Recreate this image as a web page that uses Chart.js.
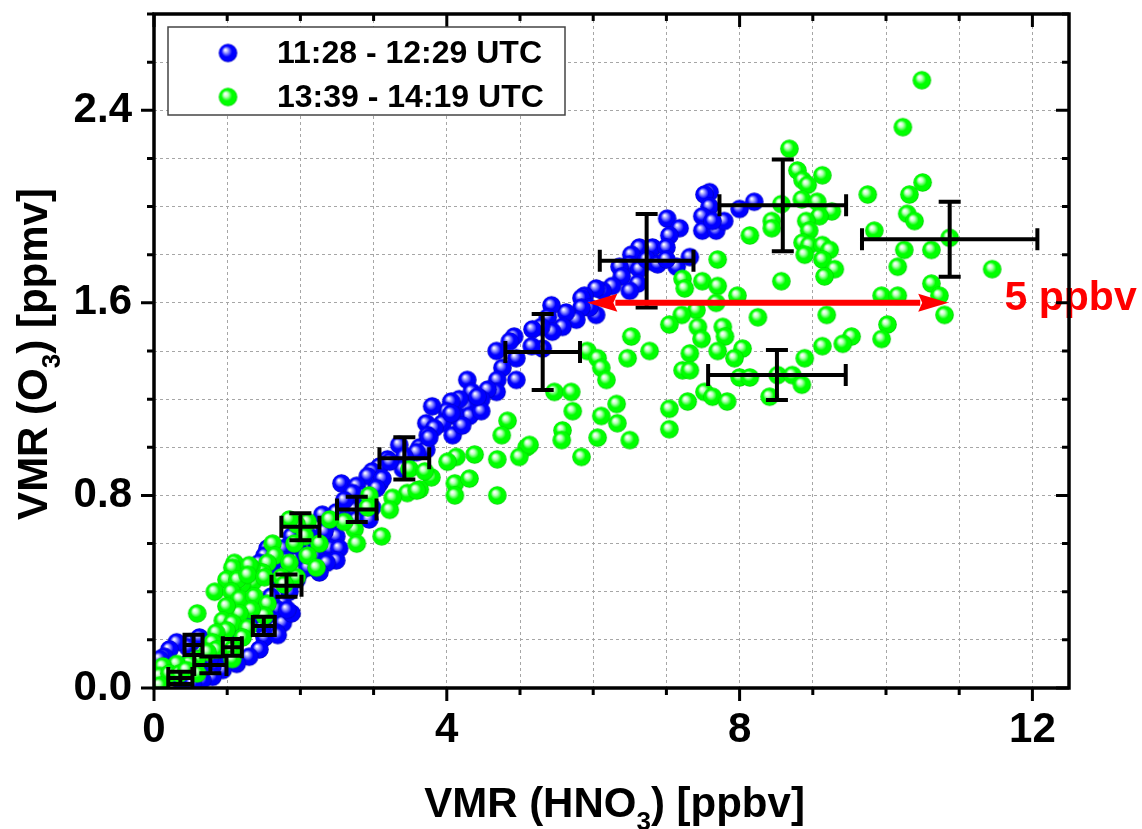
<!DOCTYPE html>
<html>
<head>
<meta charset="utf-8">
<script src="https://cdn.jsdelivr.net/npm/chart.js@4.4.1/dist/chart.umd.min.js"></script>
<style>
  html, body { margin: 0; padding: 0; background: #fff; }
  #wrap { width: 1142px; height: 829px; position: relative; }
</style>
</head>
<body>
<div id="wrap"><canvas id="chart"></canvas></div>
<script>
const FONT = '"Liberation Sans", Arial, sans-serif';

const seriesLabels = ['11:28 - 12:29 UTC', '13:39 - 14:19 UTC'];

// 11:28 - 12:29 UTC  (HNO3 ppbv, O3 ppmv)
const blueHno3 = [
  7.59, 7.52, 7.59, 7.49, 7.49, 7.68, 7.79, 8.00, 8.20, 7.01,
  7.18, 7.04, 6.81, 7.00, 7.14, 7.32, 6.81, 7.63, 6.63, 6.52,
  6.50, 6.63, 6.73, 6.88, 7.00, 6.36, 6.39, 6.61, 6.50, 6.26,
  6.13, 6.04, 5.88, 5.84, 6.04, 5.95, 5.84, 5.77, 5.63, 5.58,
  5.43, 5.38, 5.44, 5.29, 5.17, 5.31, 5.16, 4.92, 4.86, 4.68,
  4.95, 4.76, 4.95, 4.69, 4.68, 4.56, 4.47, 4.42, 4.28, 4.34,
  4.27, 4.31, 4.17, 4.06, 4.11, 4.00, 3.94, 3.80, 3.72, 3.83,
  3.74, 3.63, 3.72, 3.45, 3.59, 4.08, 4.21, 4.47, 4.42, 4.06,
  3.76, 3.35, 3.42, 3.19, 3.08, 2.98, 2.92, 2.56, 2.77, 3.08,
  3.40, 3.22, 3.12, 3.04, 2.85, 2.71, 2.63, 2.74, 2.77, 2.49,
  2.40, 2.49, 2.33, 2.40, 2.22, 2.12, 1.99, 1.96, 2.06, 1.88,
  1.85, 1.76, 1.81, 1.89, 1.99, 1.55, 1.51, 1.44, 1.30, 1.62,
  1.71, 1.95, 1.85, 1.81, 1.76, 1.67, 1.48, 1.51, 1.44, 1.30,
  1.13, 0.94, 0.80, 0.80, 0.66, 0.51, 0.46, 0.31, 0.21, 0.14,
  0.08, 0.62, 0.35, 0.53, 0.39, 0.87, 0.76, 1.76, 1.67, 1.54,
  1.03, 1.69, 1.88, 2.53, 2.49, 0.25, 0.45, 0.60, 1.00, 1.20,
  1.35, 1.60, 2.10, 2.20, 2.30, 2.60, 2.36, 2.26, 2.98, 2.94,
  1.82
];
const blueO3 = [
  2.06, 2.05, 2.00, 1.96, 1.90, 1.90, 1.94, 1.99, 2.02, 1.95,
  1.91, 1.88, 1.83, 1.83, 1.75, 1.79, 1.77, 1.94, 1.83, 1.80,
  1.76, 1.74, 1.78, 1.76, 1.78, 1.75, 1.71, 1.68, 1.65, 1.67,
  1.65, 1.66, 1.63, 1.62, 1.55, 1.58, 1.58, 1.53, 1.56, 1.50,
  1.59, 1.54, 1.48, 1.50, 1.49, 1.41, 1.42, 1.46, 1.44, 1.40,
  1.37, 1.33, 1.28, 1.28, 1.23, 1.24, 1.20, 1.16, 1.28, 1.23,
  1.17, 1.13, 1.20, 1.19, 1.13, 1.15, 1.10, 1.17, 1.10, 1.08,
  1.05, 1.00, 0.99, 0.96, 0.98, 1.05, 1.09, 1.15, 1.21, 1.14,
  1.04, 1.01, 0.96, 0.95, 0.92, 0.90, 0.88, 0.85, 0.84, 0.85,
  0.91, 0.94, 0.87, 0.83, 0.80, 0.81, 0.76, 0.74, 0.70, 0.73,
  0.69, 0.63, 0.65, 0.58, 0.59, 0.63, 0.65, 0.59, 0.55, 0.63,
  0.59, 0.58, 0.53, 0.50, 0.48, 0.58, 0.55, 0.52, 0.49, 0.52,
  0.46, 0.45, 0.40, 0.31, 0.27, 0.23, 0.26, 0.21, 0.16, 0.13,
  0.10, 0.075, 0.09, 0.046, 0.033, 0.19, 0.17, 0.19, 0.16, 0.13,
  0.12, 0.21, 0.033, 0.02, 0.075, 0.13, 0.12, 0.35, 0.33, 0.30,
  0.19, 0.22, 0.31, 0.58, 0.53, 0.05, 0.10, 0.12, 0.14, 0.22,
  0.30, 0.38, 0.50, 0.55, 0.72, 0.78, 0.52, 0.48, 0.75, 0.70,
  0.325
];

// 13:39 - 14:19 UTC
const greenHno3 = [
  10.49, 10.23, 8.68, 8.79, 9.13, 8.86, 8.93, 8.85, 9.06, 8.57,
  9.26, 9.09, 8.91, 8.44, 8.44, 8.95, 9.75, 10.32, 10.50, 10.29,
  10.39, 9.84, 8.14, 8.86, 8.95, 9.13, 9.23, 8.89, 9.13, 9.30,
  9.16, 7.70, 10.25, 10.62, 10.87, 10.16, 11.45, 8.57, 10.62, 10.73,
  9.94, 10.16, 10.80, 7.49, 7.22, 7.25, 7.70, 7.97, 7.68, 7.41,
  7.21, 7.04, 7.43, 7.48, 7.77, 7.80, 7.70, 7.32, 8.25, 9.19,
  10.02, 9.94, 9.53, 9.41, 9.13, 8.89, 8.04, 7.93, 7.22, 7.32,
  8.00, 8.14, 8.52, 8.72, 8.85, 7.52, 7.63, 7.83, 7.29, 8.41,
  7.04, 7.04, 6.77, 6.52, 6.47, 5.92, 6.06, 6.11, 6.18, 5.47,
  5.70, 5.72, 6.11, 6.32, 6.33, 5.58, 5.57, 6.06, 6.50, 5.84,
  5.09, 4.99, 4.83, 4.75, 4.38, 4.13, 4.01, 3.79, 4.11, 4.31,
  4.69, 4.69, 3.49, 3.63, 4.11, 5.13, 3.11, 3.70, 3.46, 3.59,
  3.26, 3.22, 2.94, 2.92, 2.74, 2.77, 2.60, 2.40, 2.10, 1.95,
  1.85, 2.06, 2.26, 1.92, 1.62, 1.65, 2.10, 2.22, 1.95, 1.85,
  1.74, 1.55, 1.48, 1.33, 1.21, 1.10, 1.35, 1.20, 1.07, 1.30,
  0.99, 1.14, 1.28, 1.51, 0.83, 1.06, 1.17, 1.37, 1.55, 1.51,
  1.33, 1.17, 0.99, 0.59, 0.94, 1.07, 1.28, 1.21, 0.99, 0.85,
  0.80, 0.99, 1.07, 1.07, 0.85, 0.73, 0.58, 0.48, 0.31, 0.12,
  0.08, 0.21, 0.35, 0.44, 0.59, 0.08, 1.78
];
const greenO3 = [
  2.525, 2.33, 2.24, 2.15, 2.13, 2.11, 2.09, 2.03, 2.02, 2.01,
  1.98, 1.96, 1.94, 1.94, 1.91, 1.90, 2.05, 2.05, 2.10, 1.97,
  1.94, 1.90, 1.88, 1.85, 1.84, 1.84, 1.82, 1.80, 1.78, 1.74,
  1.71, 1.78, 1.82, 1.82, 1.87, 1.75, 1.74, 1.69, 1.68, 1.63,
  1.63, 1.63, 1.55, 1.69, 1.70, 1.66, 1.67, 1.63, 1.60, 1.57,
  1.55, 1.51, 1.50, 1.45, 1.50, 1.46, 1.40, 1.39, 1.54, 1.55,
  1.51, 1.45, 1.46, 1.43, 1.42, 1.37, 1.41, 1.37, 1.32, 1.32,
  1.29, 1.29, 1.30, 1.30, 1.26, 1.23, 1.21, 1.19, 1.19, 1.21,
  1.16, 1.075, 1.40, 1.46, 1.37, 1.40, 1.37, 1.33, 1.28, 1.23,
  1.23, 1.15, 1.13, 1.18, 1.10, 1.07, 1.03, 1.04, 1.03, 0.96,
  1.00, 0.96, 1.11, 1.05, 0.97, 0.96, 0.94, 0.875, 0.85, 0.87,
  0.95, 0.80, 0.91, 0.825, 0.80, 1.01, 0.63, 0.90, 0.81, 0.82,
  0.79, 0.74, 0.80, 0.75, 0.66, 0.60, 0.69, 0.70, 0.69, 0.68,
  0.70, 0.63, 0.60, 0.60, 0.60, 0.55, 0.55, 0.50, 0.46, 0.52,
  0.46, 0.52, 0.48, 0.50, 0.46, 0.52, 0.44, 0.43, 0.50, 0.51,
  0.45, 0.45, 0.47, 0.46, 0.40, 0.40, 0.37, 0.38, 0.35, 0.30,
  0.325, 0.31, 0.34, 0.31, 0.28, 0.27, 0.25, 0.21, 0.24, 0.23,
  0.19, 0.17, 0.16, 0.12, 0.16, 0.15, 0.12, 0.10, 0.10, 0.09,
  0.05, 0.06, 0.06, 0.075, 0.06, 0.01, 0.43
];

// error crosses: centre and half-widths
const errHno3    = [6.73, 5.31, 8.59, 10.87, 8.51, 3.42, 2.77, 2.00, 1.81, 1.50, 1.07, 0.54, 0.77, 0.36];
const errO3      = [1.775, 1.396, 2.005, 1.864, 1.30, 0.954, 0.742, 0.67, 0.425, 0.258, 0.169, 0.179, 0.096, 0.042];
const errHno3Unc = [0.64, 0.51, 0.865, 1.198, 0.94, 0.34, 0.27, 0.26, 0.205, 0.15, 0.13, 0.123, 0.22, 0.165];
const errO3Unc   = [0.194, 0.158, 0.191, 0.156, 0.104, 0.0875, 0.052, 0.056, 0.046, 0.0375, 0.035, 0.042, 0.035, 0.025];

// the "5 ppbv" arrow
const arrowFrom = 5.92;
const arrowTo = 10.85;
const arrowLevel = 1.6;
const arrowLabel = '5 ppbv';
const arrowLabelAt = 11.62;

const xLabelTicks = [0, 4, 8, 12];
const yLabelTicks = [0, 0.8, 1.6, 2.4];

function isLabelled(v, list) {
  return list.some(l => Math.abs(l - v) < 1e-6);
}

function toPoints(xs, ys) {
  return xs.map((v, i) => ({ x: v, y: ys[i] }));
}

// shaded ball used as point marker
function makeBall(body, glow, rim) {
  const r = 9.3, size = 21;
  const c = document.createElement('canvas');
  c.width = c.height = size;
  const g = c.getContext('2d');
  const m = size / 2;
  const grad = g.createRadialGradient(m - 2.7, m - 3.2, 0.5, m, m, r);
  grad.addColorStop(0, '#ffffff');
  grad.addColorStop(0.22, glow);
  grad.addColorStop(0.55, body);
  grad.addColorStop(0.88, body);
  grad.addColorStop(1, rim);
  g.fillStyle = grad;
  g.beginPath();
  g.arc(m, m, r, 0, Math.PI * 2);
  g.fill();
  return c;
}
const blueBall = makeBall('#0000ff', '#9c9cff', '#0000b4');
const greenBall = makeBall('#00ff00', '#bfffbf', '#00c400');

function drawErrorBars(chart) {
  const { ctx, scales: { x, y } } = chart;
  const cap = 11;
  ctx.save();
  ctx.strokeStyle = '#000';
  ctx.lineWidth = 4;
  ctx.beginPath();
  for (let i = 0; i < errHno3.length; i++) {
    const cx = x.getPixelForValue(errHno3[i]);
    const cy = y.getPixelForValue(errO3[i]);
    const x0 = x.getPixelForValue(errHno3[i] - errHno3Unc[i]);
    const x1 = x.getPixelForValue(errHno3[i] + errHno3Unc[i]);
    const y0 = y.getPixelForValue(errO3[i] - errO3Unc[i]);
    const y1 = y.getPixelForValue(errO3[i] + errO3Unc[i]);
    ctx.moveTo(x0, cy); ctx.lineTo(x1, cy);
    ctx.moveTo(cx, y0); ctx.lineTo(cx, y1);
    ctx.moveTo(x0, cy - cap); ctx.lineTo(x0, cy + cap);
    ctx.moveTo(x1, cy - cap); ctx.lineTo(x1, cy + cap);
    ctx.moveTo(cx - cap, y0); ctx.lineTo(cx + cap, y0);
    ctx.moveTo(cx - cap, y1); ctx.lineTo(cx + cap, y1);
  }
  ctx.stroke();
  ctx.restore();
}

function drawArrow(chart) {
  const { ctx, scales: { x, y } } = chart;
  const x0 = x.getPixelForValue(arrowFrom);
  const x1 = x.getPixelForValue(arrowTo);
  const yy = y.getPixelForValue(arrowLevel);
  const head = 30, half = 9;
  ctx.save();
  ctx.fillStyle = ctx.strokeStyle = '#ff0000';
  ctx.lineWidth = 6;
  ctx.beginPath();
  ctx.moveTo(x0 + head - 2, yy);
  ctx.lineTo(x1 - head + 2, yy);
  ctx.stroke();
  ctx.beginPath();
  ctx.moveTo(x0, yy); ctx.lineTo(x0 + head, yy - half); ctx.lineTo(x0 + head - 4, yy); ctx.lineTo(x0 + head, yy + half);
  ctx.closePath();
  ctx.moveTo(x1, yy); ctx.lineTo(x1 - head, yy - half); ctx.lineTo(x1 - head + 4, yy); ctx.lineTo(x1 - head, yy + half);
  ctx.closePath();
  ctx.fill();
  ctx.font = `bold 41px ${FONT}`;
  ctx.textBaseline = 'middle';
  ctx.textAlign = 'left';
  ctx.fillText(arrowLabel, x.getPixelForValue(arrowLabelAt), yy - 4);
  ctx.restore();
}

function drawFrame(chart) {
  const { ctx, chartArea: a, scales: { x, y } } = chart;
  ctx.save();
  ctx.strokeStyle = '#000';
  ctx.lineWidth = 3;
  ctx.beginPath();
  x.ticks.forEach(t => {
    const len = isLabelled(t.value, xLabelTicks) ? 13 : 7;
    const px = x.getPixelForValue(t.value);
    ctx.moveTo(px, a.bottom); ctx.lineTo(px, a.bottom + len);
    ctx.moveTo(px, a.top); ctx.lineTo(px, a.top + len);
  });
  y.ticks.forEach(t => {
    const len = isLabelled(t.value, yLabelTicks) ? 13 : 7;
    const py = y.getPixelForValue(t.value);
    ctx.moveTo(a.left - len, py); ctx.lineTo(a.left, py);
    ctx.moveTo(a.right - len, py); ctx.lineTo(a.right, py);
  });
  ctx.stroke();
  ctx.lineWidth = 3.5;
  ctx.strokeRect(a.left, a.top, a.width, a.height);
  ctx.restore();
}

// text with a subscript part
function drawRich(ctx, parts, cx, baseY) {
  const big = `bold 42px ${FONT}`, small = `bold 26px ${FONT}`;
  let total = 0;
  parts.forEach(([s, sub]) => { ctx.font = sub ? small : big; total += ctx.measureText(s).width; });
  let pos = cx - total / 2;
  parts.forEach(([s, sub]) => {
    ctx.font = sub ? small : big;
    ctx.fillText(s, pos, baseY + (sub ? 13 : 0));
    pos += ctx.measureText(s).width;
  });
}

function drawTitles(chart) {
  const { ctx, chartArea: a } = chart;
  ctx.save();
  ctx.fillStyle = '#000';
  ctx.textAlign = 'left';
  ctx.textBaseline = 'alphabetic';
  drawRich(ctx, [['VMR (HNO', false], ['3', true], [') [ppbv]', false]], (a.left + a.right) / 2 + 3, 817);
  ctx.translate(47, (a.top + a.bottom) / 2 + 3);
  ctx.rotate(-Math.PI / 2);
  drawRich(ctx, [['VMR (O', false], ['3', true], [') [ppmv]', false]], 0, 0);
  ctx.restore();
}

function drawLegendBox(chart) {
  const { ctx, chartArea: a } = chart;
  const bx = a.left + 14, by = a.top + 13, bw = 397, bh = 88;
  ctx.save();
  ctx.fillStyle = '#fff';
  ctx.fillRect(bx, by, bw, bh);
  ctx.strokeStyle = '#444';
  ctx.lineWidth = 1.5;
  ctx.strokeRect(bx, by, bw, bh);
  ctx.font = `bold 32px ${FONT}`;
  ctx.fillStyle = '#000';
  ctx.textBaseline = 'middle';
  ctx.textAlign = 'left';
  chart.data.datasets.forEach((ds, i) => {
    const cy = by + 26 + i * 44;
    const img = ds.pointStyle;
    ctx.drawImage(img, bx + 60 - img.width / 2, cy - img.height / 2);
    ctx.fillText(ds.label, bx + 109, cy + 1);
  });
  ctx.restore();
}

const decor = {
  id: 'decor',
  afterDatasetsDraw(chart) {
    drawErrorBars(chart);
    drawArrow(chart);
  },
  afterDraw(chart) {
    drawFrame(chart);
    drawTitles(chart);
    drawLegendBox(chart);
  }
};

const tickFont = { family: FONT, size: 42, weight: 'bold' };

new Chart(document.getElementById('chart'), {
  type: 'scatter',
  data: {
    datasets: [
      { label: seriesLabels[0], data: toPoints(blueHno3, blueO3), pointStyle: blueBall, pointRadius: 9, order: 1 },
      { label: seriesLabels[1], data: toPoints(greenHno3, greenO3), pointStyle: greenBall, pointRadius: 9, order: 0 }
    ]
  },
  options: {
    responsive: true,
    maintainAspectRatio: false,
    animation: false,
    events: [],
    layout: { padding: { left: 0, top: 14, right: 73, bottom: 0 } },
    plugins: { legend: { display: false }, tooltip: { enabled: false } },
    scales: {
      x: {
        type: 'linear', min: 0, max: 12.5,
        afterFit: s => { s.height = 141; s.paddingLeft = 0; s.paddingRight = 0; },
        grid: { color: '#a6a6a6', lineWidth: 1, drawTicks: false },
        border: { display: false, dash: [3, 3] },
        ticks: {
          stepSize: 1, padding: 17, color: '#000', font: tickFont,
          autoSkip: false, maxRotation: 0, includeBounds: false,
          callback: v => isLabelled(v, xLabelTicks) ? String(Math.round(v)) : ''
        }
      },
      y: {
        type: 'linear', min: 0, max: 2.8,
        afterFit: s => { s.width = 154; s.paddingTop = 0; s.paddingBottom = 0; },
        grid: { color: '#a6a6a6', lineWidth: 1, drawTicks: false },
        border: { display: false, dash: [3, 3] },
        ticks: {
          stepSize: 0.2, padding: 22, color: '#000', font: tickFont,
          autoSkip: false,
          callback: v => isLabelled(v, yLabelTicks) ? v.toFixed(1) : ''
        }
      }
    }
  },
  plugins: [decor]
});
</script>
</body>
</html>
